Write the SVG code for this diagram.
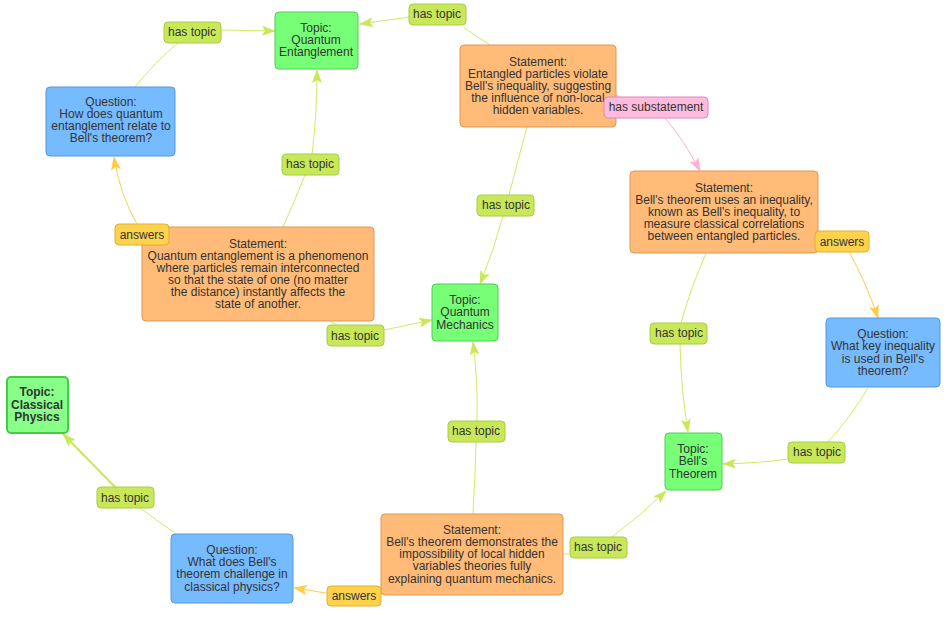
<svg xmlns="http://www.w3.org/2000/svg" width="948" height="617" viewBox="0 0 948 617">
<defs>
<style>
text{font-family:"Liberation Sans",Arial,sans-serif;font-size:12px;fill:#333;text-anchor:middle}
.topic rect{fill:#77ff77;stroke:#55cc55;stroke-width:1}
.stmt rect{fill:#ffbb77;stroke:#dd9955;stroke-width:1}
.quest rect{fill:#77bbff;stroke:#5599dd;stroke-width:1}
.lbl rect{fill:#c8e85a;stroke:#a8cc44;stroke-width:1}
.ans rect{fill:#ffd24d;stroke:#e0b030;stroke-width:1}
.sub rect{fill:#ffbbdd;stroke:#dd88bb;stroke-width:1}
.eg{fill:none;stroke:#cfeb66;stroke-width:1}
.ey{fill:none;stroke:#ffcc55;stroke-width:1}
.ep{fill:none;stroke:#ffb0d4;stroke-width:1}
</style>
<marker id="ag" markerWidth="14" markerHeight="10" refX="13" refY="5" orient="auto" markerUnits="userSpaceOnUse"><path d="M0,0 L14,5 L0,10 L3,5 Z" fill="#c8e85a"/></marker>
<marker id="ay" markerWidth="14" markerHeight="10" refX="13" refY="5" orient="auto" markerUnits="userSpaceOnUse"><path d="M0,0 L14,5 L0,10 L3,5 Z" fill="#ffcc44"/></marker>
<marker id="ap" markerWidth="14" markerHeight="10" refX="13" refY="5" orient="auto" markerUnits="userSpaceOnUse"><path d="M0,0 L14,5 L0,10 L3,5 Z" fill="#ffb0d4"/></marker>
</defs>
<rect width="948" height="617" fill="#fff"/>
<g id="connectors">
<path class="eg" d="M135,87 Q155,62 178,43"/>
<path class="eg" d="M221,30 L275,31" marker-end="url(#ag)"/>
<path class="eg" d="M490,45 L464,28"/>
<path class="eg" d="M409,17 L360,24" marker-end="url(#ag)"/>
<path class="eg" d="M283,227 Q295,200 305,175"/>
<path class="eg" d="M312,154 Q317,115 317,70" marker-end="url(#ag)"/>
<path class="eg" d="M527,127 Q518,160 509,195"/>
<path class="eg" d="M503,216 Q494,250 480,284" marker-end="url(#ag)"/>
<path class="ep" d="M616,95 L620,97"/>
<path class="ep" d="M665,118 Q684,140 700,171" marker-end="url(#ap)"/>
<path class="ey" d="M137,224 Q120,195 114,157" marker-end="url(#ay)"/>
<path class="eg" d="M330,321 L337,325"/>
<path class="eg" d="M384,330 L432,320" marker-end="url(#ag)"/>
<path class="ey" d="M849,252 Q866,282 878,318" marker-end="url(#ay)"/>
<path class="eg" d="M706,253 Q690,290 681,323"/>
<path class="eg" d="M680,344 Q681,390 688,432" marker-end="url(#ag)"/>
<path class="eg" d="M868,388 Q850,418 828,442"/>
<path class="eg" d="M788,459 Q760,463 723,464" marker-end="url(#ag)"/>
<path class="eg" d="M473,514 Q475,480 476,442"/>
<path class="eg" d="M477,421 Q478,380 473,342" marker-end="url(#ag)"/>
<path class="eg" d="M563,554 L569,554"/>
<path class="eg" d="M612,537 Q640,516 666,491" marker-end="url(#ag)"/>
<path class="ey" d="M326,593 L294,588" marker-end="url(#ay)"/>
<path class="eg" d="M176,534 L140,508"/>
<path d="M115,487 L63,434" fill="none" stroke="#c8e85a" stroke-width="2" marker-end="url(#ag)"/>
</g>
<g id="n_qe" class="topic"><rect x="275" y="12" width="83" height="57" rx="4"/><text x="316" y="32">Topic:</text><text x="316" y="44">Quantum</text><text x="316" y="56">Entanglement</text></g>
<g id="n_s_ent" class="stmt"><rect x="460" y="45" width="156" height="82" rx="4"/><text x="538" y="66">Statement:</text><text x="538" y="78">Entangled particles violate</text><text x="538" y="90">Bell's inequality, suggesting</text><text x="538" y="102">the influence of non-local</text><text x="538" y="114">hidden variables.</text></g>
<g id="n_q_how" class="quest"><rect x="46" y="87" width="129" height="69" rx="4"/><text x="111" y="106">Question:</text><text x="111" y="118">How does quantum</text><text x="111" y="130">entanglement relate to</text><text x="111" y="142">Bell's theorem?</text></g>
<g id="n_s_qe" class="stmt"><rect x="142" y="227" width="232" height="94" rx="4"/><text x="258" y="248">Statement:</text><text x="258" y="260">Quantum entanglement is a phenomenon</text><text x="258" y="272">where particles remain interconnected</text><text x="258" y="284">so that the state of one (no matter</text><text x="258" y="296">the distance) instantly affects the</text><text x="258" y="308">state of another.</text></g>
<g id="n_qm" class="topic"><rect x="432" y="284" width="66" height="57" rx="4"/><text x="465" y="304">Topic:</text><text x="465" y="316">Quantum</text><text x="465" y="329">Mechanics</text></g>
<g id="n_s_uses" class="stmt"><rect x="630" y="171" width="188" height="82" rx="4"/><text x="724" y="192">Statement:</text><text x="724" y="204">Bell's theorem uses an inequality,</text><text x="724" y="216">known as Bell's inequality, to</text><text x="724" y="228">measure classical correlations</text><text x="724" y="240">between entangled particles.</text></g>
<g id="n_q_key" class="quest"><rect x="826" y="318" width="114" height="69" rx="4"/><text x="883" y="338">Question:</text><text x="883" y="350">What key inequality</text><text x="883" y="363">is used in Bell's</text><text x="883" y="375">theorem?</text></g>
<g id="n_bt" class="topic"><rect x="665" y="433" width="57" height="57" rx="4"/><text x="693" y="453">Topic:</text><text x="693" y="465">Bell's</text><text x="693" y="478">Theorem</text></g>
<g id="n_cp"><rect x="7" y="377" width="61" height="56" rx="4" fill="#88ff88" stroke="#44cc44" stroke-width="2"/><text x="37" y="396" font-weight="bold">Topic:</text><text x="37" y="409" font-weight="bold">Classical</text><text x="37" y="421" font-weight="bold">Physics</text></g>
<g id="n_q_what" class="quest"><rect x="171" y="534" width="122" height="69" rx="4"/><text x="232" y="554">Question:</text><text x="232" y="566">What does Bell's</text><text x="232" y="578">theorem challenge in</text><text x="232" y="591">classical physics?</text></g>
<g id="n_s_dem" class="stmt"><rect x="381" y="514" width="182" height="81" rx="4"/><text x="472" y="534">Statement:</text><text x="472" y="546">Bell's theorem demonstrates the</text><text x="472" y="558">impossibility of local hidden</text><text x="472" y="570">variables theories fully</text><text x="472" y="583">explaining quantum mechanics.</text></g>
<g id="labels">
<g class="lbl"><rect x="164" y="22" width="57" height="21" rx="4"/><text x="192" y="36">has topic</text></g>
<g class="lbl"><rect x="409" y="4" width="57" height="21" rx="4"/><text x="437" y="18">has topic</text></g>
<g class="lbl"><rect x="282" y="154" width="57" height="21" rx="4"/><text x="310" y="168">has topic</text></g>
<g class="lbl"><rect x="477" y="195" width="57" height="21" rx="4"/><text x="506" y="209">has topic</text></g>
<g class="sub"><rect x="604" y="97" width="104" height="21" rx="4"/><text x="656" y="111">has substatement</text></g>
<g class="ans"><rect x="115" y="224" width="54" height="21" rx="4"/><text x="142" y="239">answers</text></g>
<g class="lbl"><rect x="327" y="325" width="57" height="21" rx="4"/><text x="355" y="340">has topic</text></g>
<g class="ans"><rect x="815" y="231" width="54" height="21" rx="4"/><text x="842" y="246">answers</text></g>
<g class="lbl"><rect x="650" y="323" width="57" height="21" rx="4"/><text x="679" y="337">has topic</text></g>
<g class="lbl"><rect x="788" y="442" width="57" height="21" rx="4"/><text x="817" y="456">has topic</text></g>
<g class="lbl"><rect x="448" y="421" width="57" height="21" rx="4"/><text x="476" y="435">has topic</text></g>
<g class="lbl"><rect x="97" y="487" width="57" height="21" rx="4"/><text x="125" y="502">has topic</text></g>
<g class="lbl"><rect x="570" y="537" width="57" height="21" rx="4"/><text x="598" y="551">has topic</text></g>
<g class="ans"><rect x="327" y="586" width="54" height="20" rx="4"/><text x="354" y="600">answers</text></g>
</g>
</svg>
